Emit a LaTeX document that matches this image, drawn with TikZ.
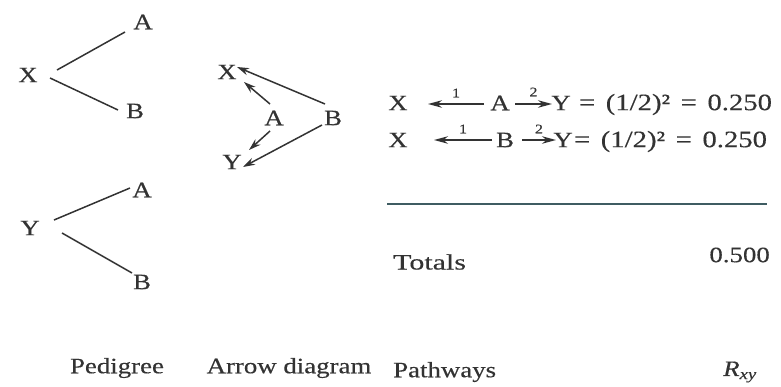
\documentclass[tikz,border=0pt]{standalone}
\usepackage{fontspec}
\setmainfont[FakeStretch=1.22,FakeBold=0.35]{Liberation Serif}
\newfontfamily\widefont[FakeStretch=1.36,FakeBold=0.35]{Liberation Serif}
\usetikzlibrary{arrows.meta,calc}
\definecolor{rulecol}{HTML}{3F5C62}
\definecolor{ink}{HTML}{333333}
\newcommand{\eqsp}{\hspace{0.45em}}
\begin{document}
\begin{tikzpicture}[x=1pt,y=-1pt,
  lbl/.style={inner sep=0pt,text=ink,font=\fontsize{22}{25}\selectfont},
  eqtxt/.style={inner sep=0pt,text=ink,font=\fontsize{23.5}{27}\selectfont},
  captxt/.style={inner sep=0pt,text=ink,font=\fontsize{22}{26}\selectfont},
  num/.style={inner sep=0pt,text=ink,font=\fontsize{13}{15}\selectfont},
  ln/.style={draw=ink,line width=1.5pt},
  darr/.style={ln,-{Stealth[length=12pt,width=7.5pt]}},
  parr/.style={ln,-{Stealth[length=14pt,width=7.5pt]}}]
\useasboundingbox (0,0) rectangle (781,386);
% Pedigree
\node[lbl] (X1) at (28,75) {X};
\node[lbl] (A1) at (143,22) {A};
\node[lbl] (B1) at (135,111) {B};
\node[lbl] (Y1) at (30,228) {Y};
\node[lbl] (A2) at (142,190) {A};
\node[lbl] (B2) at (142,282) {B};
\draw[ln] ($(X1)+(29,-5)$) -- ($(A1)+(-18,10)$);
\draw[ln] ($(X1)+(22,3)$) -- ($(B1)+(-17,-1)$);
\draw[ln] ($(Y1)+(24,-8)$) -- ($(A2)+(-12,-2)$);
\draw[ln] ($(Y1)+(32,5)$) -- ($(B2)+(-10,-9)$);
% Arrow diagram
\node[lbl] (X2) at (227,72) {X};
\node[lbl] (A3) at (274,118) {A};
\node[lbl] (B3) at (333,118) {B};
\node[lbl] (Y2) at (232,162) {Y};
\draw[darr] ($(B3)+(-8,-14)$) -- ($(X2)+(10,-5)$);
\draw[darr] ($(A3)+(-4,-14)$) -- ($(X2)+(17,10)$);
\draw[darr] ($(A3)+(-4,13)$) -- ($(Y2)+(17,-12)$);
\draw[darr] ($(B3)+(-11,7)$) -- ($(Y2)+(11,5)$);
% Pathways
\node[lbl] (X3) at (398,103) {X};
\node[lbl] (A4) at (500,103) {A};
\node[lbl] (Y3) at (561,103) {Y};
\node[eqtxt,anchor=west] (E1) at ($(Y3.east)+(8,1.5)$) {=\eqsp(1/2)²\eqsp=\eqsp0.250};
\draw[parr] ($(A4)+(-16,1)$) -- node[num,above=6pt] (n1) {1} ($(X3)+(30,1)$);
\draw[parr] ($(A4)+(15,1)$) -- node[num,above=7pt] (n2) {2} ($(Y3)+(-9,1)$);
\node[lbl] (X4) at (398,140) {X};
\node[lbl] (B4) at (505,140) {B};
\node[lbl] (Y4) at (563,140) {Y};
\node[eqtxt,anchor=west] (E2) at ($(Y4.east)+(1,1.5)$) {=\eqsp(1/2)²\eqsp=\eqsp0.250};
\draw[parr] ($(B4)+(-13,0)$) -- node[num,above=6pt] (n3) {1} ($(X4)+(36,0)$);
\draw[parr] ($(B4)+(17,0)$) -- node[num,above=6pt] (n4) {2} ($(Y4)+(-7,0)$);
\draw[draw=rulecol,line width=1.8pt] (387,204) coordinate (r1) -- (767,204) coordinate (r2);
\node[captxt,anchor=west,font=\widefont\fontsize{22}{26}\selectfont] (tot) at (393,262) {Totals};
\node[captxt,anchor=east] (sum) at (770,255) {0.500};
% Captions
\node[captxt] (c1) at (117,368) {Pedigree};
\node[captxt] (c2) at (289,368) {Arrow diagram};
\node[captxt,anchor=west] (c3) at (393,372) {Pathways};
\node[captxt,anchor=west] (c4) at (723,372) {\textit{R}\textsubscript{\textit{xy}}};
\end{tikzpicture}
\end{document}
